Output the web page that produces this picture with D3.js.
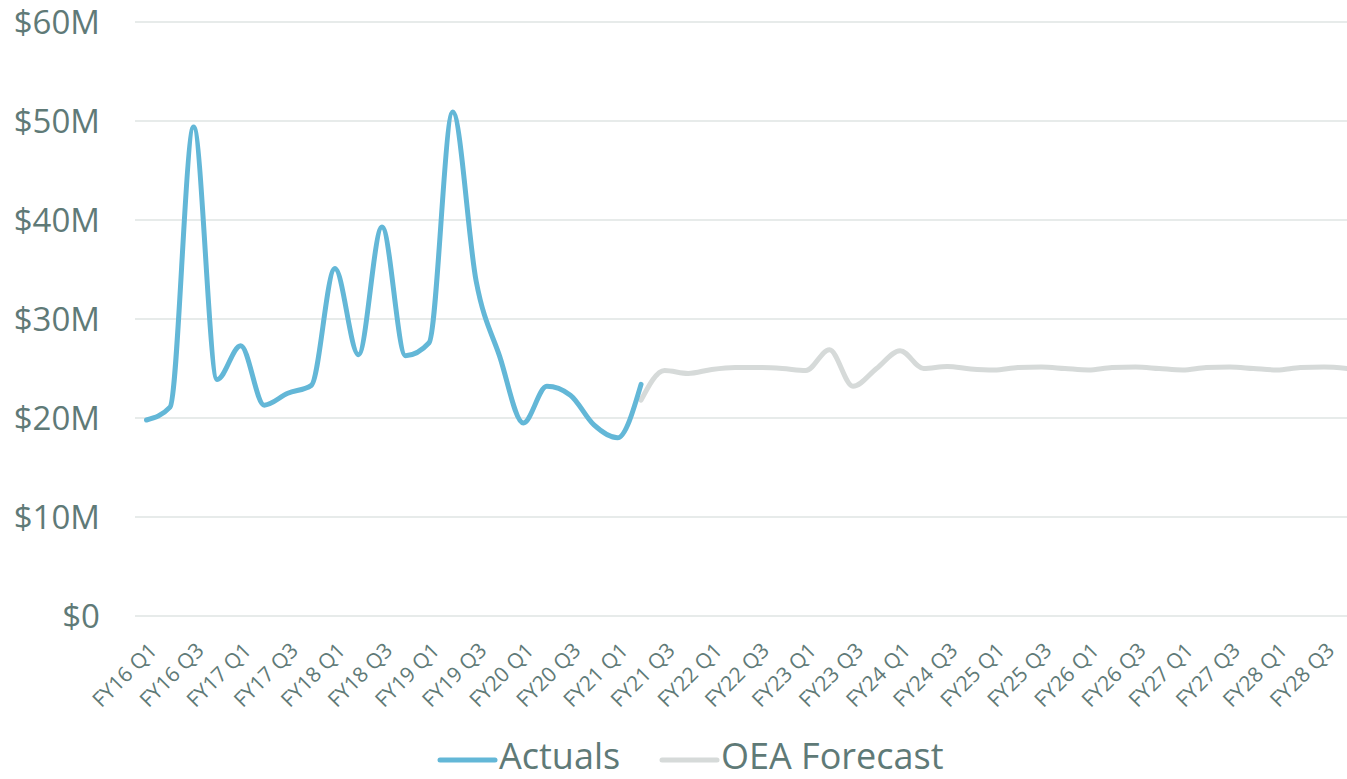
<!DOCTYPE html>
<html>
<head>
<meta charset="utf-8">
<script src="https://cdn.jsdelivr.net/npm/d3@7"></script>
<style>
  html, body { margin: 0; padding: 0; background: #ffffff; }
  svg { display: block; }
  text { font-family: "Open Sans", sans-serif; fill: #5f7a77; }
</style>
</head>
<body>
<svg id="chart" width="1347" height="779"></svg>
<script>
const quarters = [
  "FY16 Q1","FY16 Q2","FY16 Q3","FY16 Q4",
  "FY17 Q1","FY17 Q2","FY17 Q3","FY17 Q4",
  "FY18 Q1","FY18 Q2","FY18 Q3","FY18 Q4",
  "FY19 Q1","FY19 Q2","FY19 Q3","FY19 Q4",
  "FY20 Q1","FY20 Q2","FY20 Q3","FY20 Q4",
  "FY21 Q1","FY21 Q2","FY21 Q3","FY21 Q4",
  "FY22 Q1","FY22 Q2","FY22 Q3","FY22 Q4",
  "FY23 Q1","FY23 Q2","FY23 Q3","FY23 Q4",
  "FY24 Q1","FY24 Q2","FY24 Q3","FY24 Q4",
  "FY25 Q1","FY25 Q2","FY25 Q3","FY25 Q4",
  "FY26 Q1","FY26 Q2","FY26 Q3","FY26 Q4",
  "FY27 Q1","FY27 Q2","FY27 Q3","FY27 Q4",
  "FY28 Q1","FY28 Q2","FY28 Q3","FY28 Q4"
];
// Actuals ($M), FY16 Q1 .. FY21 Q2
const actualQuarters = quarters.slice(0, 22);
const actualValues = [19.8, 21.1, 49.4, 23.9, 27.3, 21.3, 22.5, 23.3, 35.1, 26.4, 39.3,
                      26.3, 27.6, 50.9, 33.8, 26.2, 19.5, 23.2, 22.3, 19.3, 18.0, 23.4];
// OEA Forecast ($M), FY21 Q2 .. FY28 Q4
const forecastQuarters = quarters.slice(21);
const forecastValues = [21.8, 24.8, 24.5, 24.9, 25.1, 25.1, 25.0, 24.8, 26.9, 23.2, 25.0,
                        26.8, 25.0, 25.2, 24.95, 24.85, 25.1, 25.15, 25.0, 24.85, 25.1,
                        25.15, 25.0, 24.85, 25.1, 25.15, 25.0, 24.85, 25.1, 25.15, 25.0];
const yTicks = [0, 10, 20, 30, 40, 50, 60];
const yTickLabels = ["$0", "$10M", "$20M", "$30M", "$40M", "$50M", "$60M"];
const seriesNames = ["Actuals", "OEA Forecast"];
const seriesColors = ["#63b7d7", "#d6dad9"];

const svg = d3.select("#chart");
const step = 23.55;
const x = d3.scalePoint().domain(quarters).range([146.5, 146.5 + step * (quarters.length - 1)]);
const y = d3.scaleLinear().domain([0, 60]).range([616, 22]);
const gridLeft = 135, gridRight = 146.5 + step * (quarters.length - 1) + step / 2;

// gridlines
svg.append("g").selectAll("line").data(yTicks).join("line")
  .attr("x1", gridLeft).attr("x2", gridRight)
  .attr("y1", d => y(d)).attr("y2", d => y(d))
  .attr("stroke", "#dfe4e3").attr("stroke-width", 1.5);

// y labels
svg.append("g").selectAll("text").data(yTicks).join("text")
  .attr("x", 100).attr("y", d => y(d) + 11.5)
  .attr("text-anchor", "end")
  .style("font-size", "33px")
  .text((d, i) => yTickLabels[i]);

// x labels (every other quarter)
const shown = quarters.filter((q, i) => i % 2 === 0);
svg.append("g").selectAll("text").data(shown).join("text")
  .attr("text-anchor", "end")
  .attr("dy", "0.72em")
  .attr("transform", d => `translate(${x(d) + 1},${641}) rotate(-45)`)
  .style("font-size", "21px")
  .text(d => d);

const line = d3.line()
  .x(d => x(d[0])).y(d => y(d[1]))
  .curve(d3.curveMonotoneX);

svg.append("path")
  .datum(d3.zip(forecastQuarters, forecastValues))
  .attr("d", line).attr("fill", "none")
  .attr("stroke", seriesColors[1]).attr("stroke-width", 5).attr("stroke-linecap", "round");

svg.append("path")
  .datum(d3.zip(actualQuarters, actualValues))
  .attr("d", line).attr("fill", "none")
  .attr("stroke", seriesColors[0]).attr("stroke-width", 5).attr("stroke-linecap", "round");

// legend
const legendItems = [
  { x1: 440, x2: 495, tx: 499 },
  { x1: 662, x2: 717, tx: 721 }
];
const lg = svg.append("g");
legendItems.forEach((it, i) => {
  lg.append("line").attr("x1", it.x1).attr("x2", it.x2).attr("y1", 760).attr("y2", 760)
    .attr("stroke", seriesColors[i]).attr("stroke-width", 5).attr("stroke-linecap", "round");
  lg.append("text").attr("x", it.tx).attr("y", 769).style("font-size", "36px").text(seriesNames[i]);
});
</script>
</body>
</html>
